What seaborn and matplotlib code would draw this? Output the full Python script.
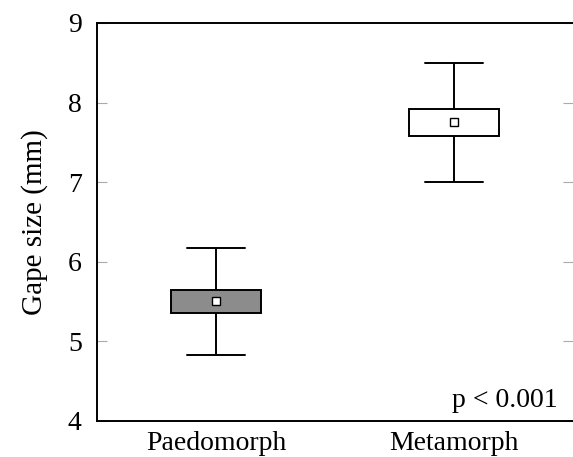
import pandas as pd
import matplotlib
matplotlib.use("Agg")
import matplotlib.pyplot as plt
import seaborn as sns

# values: whisker low, Q1, median, Q3, whisker high
groups = ["Paedomorph", "Metamorph"]
paedo_vals = [4.83, 5.36, 5.50, 5.65, 6.17]
meta_vals = [7.00, 7.58, 7.75, 7.92, 8.50]
box_colors = ["#8c8c8c", "#ffffff"]
y_ticks = [4, 5, 6, 7, 8, 9]

df = pd.DataFrame({
    "group": [groups[0]] * len(paedo_vals) + [groups[1]] * len(meta_vals),
    "gape": paedo_vals + meta_vals,
})

sns.set_style("white")
plt.rcParams["font.family"] = ["Liberation Serif", "DejaVu Serif"]
plt.rcParams["text.color"] = "black"
plt.rcParams["axes.labelcolor"] = "black"
plt.rcParams["xtick.labelcolor"] = "black"
plt.rcParams["ytick.labelcolor"] = "black"

fig = plt.figure(figsize=(5.73, 4.57), dpi=100)
ax = fig.add_axes([0.1693, 0.0788, 0.8307, 0.8709])

sns.boxplot(data=df, x="group", y="gape", hue="group", order=groups,
            hue_order=groups, palette=box_colors, saturation=1, dodge=False,
            width=0.38, whis=(0, 100), showmeans=True,
            meanprops={"marker": "s", "markerfacecolor": "white",
                       "markeredgecolor": "black", "markersize": 6,
                       "markeredgewidth": 1.0},
            medianprops={"visible": False}, linecolor="black", linewidth=1.4,
            capwidths=0.24, legend=False, ax=ax)

ax.set_xlim(-0.5, 1.5)
ax.set_ylim(4, 9)
ax.set_yticks(y_ticks)
ax.set_xlabel("")
ax.set_ylabel("Gape size (mm)", fontsize=21, labelpad=14)

ax.tick_params(axis="y", direction="in", length=7, width=0.8, color="#aaaaaa",
               left=True, right=True, labelright=False, labelsize=20, pad=11)
ax.tick_params(axis="x", length=0, labelsize=20, pad=7)

for side in ["left", "top", "bottom"]:
    ax.spines[side].set_color("black")
    ax.spines[side].set_linewidth(1.4)
ax.spines["right"].set_visible(False)

ax.text(0.968, 0.035, "p < 0.001", transform=ax.transAxes, ha="right",
        va="baseline", fontsize=20)

fig.savefig("out.png", dpi=100)
